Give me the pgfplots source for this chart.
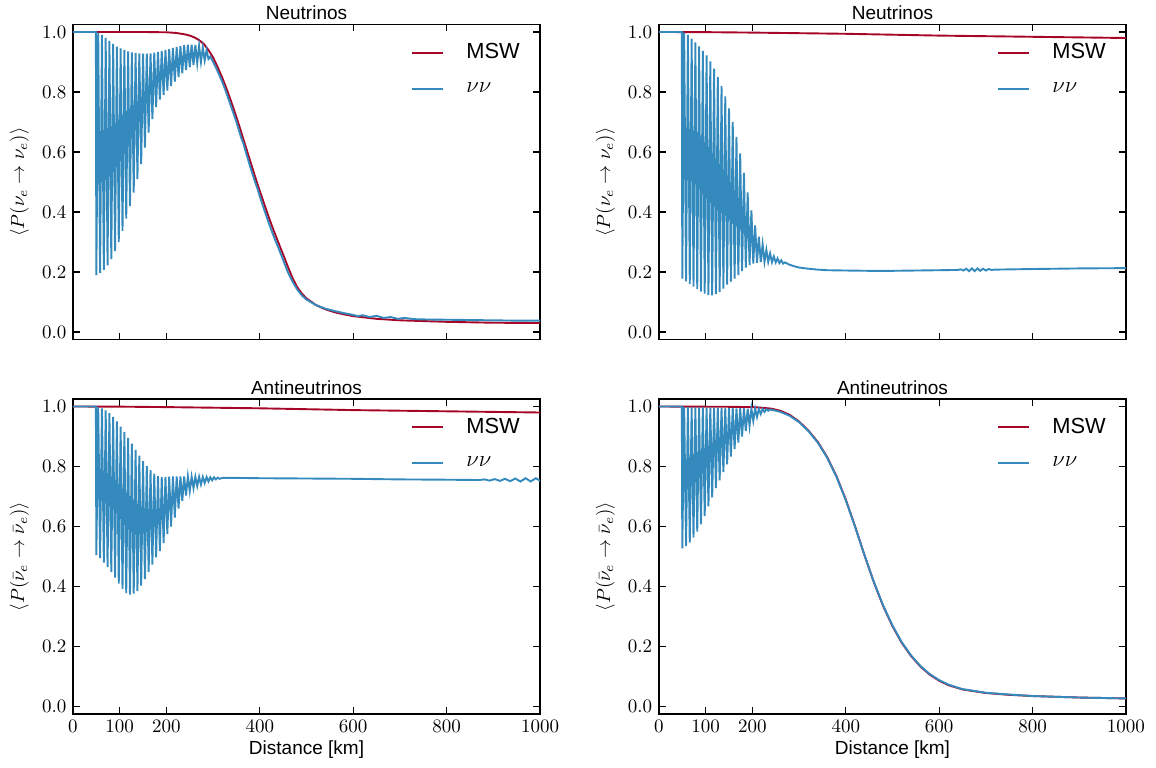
\documentclass[border=0pt]{standalone}
\usepackage[no-math]{fontspec}
\usepackage{pgfplots}
\pgfplotsset{compat=1.18}
\newfontfamily\hv{Liberation Sans}
\definecolor{mswred}{HTML}{A60628}
\definecolor{nublue}{HTML}{348ABD}
\pgfplotsset{
  panel/.style={
    scale only axis, width=245.8pt, height=165.8pt,
    xmin=0, xmax=1000, ymin=-0.025, ymax=1.025,
    xtick={0,100,200,400,600,800,1000},
    ytick={0,0.2,0.4,0.6,0.8,1.0},
    yticklabel style={/pgf/number format/fixed,/pgf/number format/fixed zerofill,/pgf/number format/precision=1},
    xticklabel style={/pgf/number format/1000 sep={}},
    scaled ticks=false,
    tick align=inside, major tick length=3.5pt,
    axis line style={line width=0.7pt},
    tick style={line width=0.7pt, black},
    title style={font=\hv, yshift=-7pt},
    xlabel style={font=\hv, yshift=3pt},
    legend style={draw=none, fill=none, at={(0.982,0.965)}, anchor=north east,
      font=\hv\fontsize{11.5}{13.5}\selectfont, row sep=7pt, nodes={inner xsep=3pt},
      /tikz/every odd column/.append style={column sep=9pt}},
    legend cell align=left,
    legend image code/.code={\draw[##1] (0pt,0pt) -- (16pt,0pt);},
  },
  msw/.style={color=mswred, line width=1pt},
  nn/.style={color=nublue, line width=1pt},
}
\begin{document}
\begin{tikzpicture}
\path[use as bounding box] (0pt,0pt) rectangle (608.4pt,403.7pt);
% ---------------- Top left
\begin{axis}[panel, at={(38.42pt,225pt)}, anchor=south west,
  title={Neutrinos}, xticklabels={},
  ylabel={$\langle P(\nu_e \rightarrow \nu_e)\rangle$}]
\addplot[msw] coordinates {(0,1) (150,1) (200,0.999) (220,0.997) (240,0.992) (250,0.988) (260,0.982) (270,0.973) (280,0.96) (290,0.94) (300,0.915) (310,0.882) (320,0.846) (330,0.806) (340,0.762) (350,0.716) (360,0.667) (370,0.617) (380,0.567) (390,0.517) (400,0.47) (410,0.424) (420,0.379) (430,0.337) (440,0.297) (450,0.258) (460,0.218) (470,0.18) (480,0.15) (490,0.128) (500,0.112) (520,0.09) (540,0.076) (560,0.066) (580,0.059) (600,0.053) (650,0.044) (700,0.039) (800,0.034) (900,0.031) (1000,0.03)};
\addlegendentry{MSW}
\addplot[nn] coordinates {(0,1) (49,1)
(50,0.19) (54,0.998) (58,0.197) (62,0.99) (66,0.207) (70,0.98) (74,0.222) (78,0.97) (82,0.243) (86,0.96) (90,0.27) (94,0.951) (98,0.30) (102,0.945) (106,0.337) (110,0.94) (114,0.378) (118,0.935) (122,0.42) (126,0.932) (130,0.465) (134,0.93) (138,0.51) (142,0.929) (146,0.56) (150,0.928) (154,0.615) (158,0.928) (162,0.665) (166,0.929) (170,0.71) (174,0.931) (178,0.75) (182,0.934) (186,0.775) (190,0.937) (194,0.79) (198,0.94) (202,0.805) (206,0.943) (210,0.82) (214,0.947) (218,0.835) (222,0.95) (226,0.85) (230,0.953) (234,0.862) (238,0.956) (242,0.873) (246,0.958) (250,0.882) (254,0.958) (258,0.89) (262,0.957) (266,0.896) (270,0.954) (274,0.90) (278,0.948) (282,0.905) (286,0.94) (290,0.91) (294,0.918)
(300,0.9) (305,0.885) (310,0.868) (315,0.85) (320,0.832) (325,0.812) (330,0.79) (340,0.745) (350,0.7) (360,0.648) (365,0.628) (370,0.6) (380,0.548) (390,0.5) (395,0.478) (400,0.452) (410,0.405) (420,0.36) (430,0.318) (440,0.28) (450,0.24) (460,0.2) (470,0.168) (480,0.142) (490,0.122) (500,0.108) (520,0.09) (540,0.078) (560,0.07) (580,0.063) (600,0.057) (610,0.053) (620,0.056) (635,0.05) (650,0.054) (665,0.047) (680,0.05) (695,0.044) (710,0.047) (730,0.043) (750,0.042) (800,0.041) (850,0.04) (900,0.039) (950,0.038) (1000,0.038)};
\addlegendentry{$\nu\nu$}
\end{axis}
% ---------------- Top right
\begin{axis}[panel, at={(346.8pt,225pt)}, anchor=south west,
  title={Neutrinos}, xticklabels={},
  ylabel={$\langle P(\nu_e \rightarrow \nu_e)\rangle$}]
\addplot[msw] coordinates {(0,1) (100,0.9995) (200,0.998) (300,0.996) (400,0.994) (500,0.991) (600,0.988) (700,0.986) (800,0.984) (900,0.982) (1000,0.98)};
\addlegendentry{MSW}
\addplot[nn] coordinates {(0,1) (49,1)
(50,0.178) (54,0.998) (58,0.169) (62,0.99) (66,0.16) (70,0.978) (74,0.151) (78,0.965) (82,0.143) (86,0.952) (90,0.135) (94,0.937) (98,0.128) (102,0.922) (106,0.123) (110,0.902) (114,0.122) (118,0.878) (122,0.126) (126,0.85) (130,0.134) (134,0.82) (138,0.145) (142,0.785) (146,0.158) (150,0.745) (154,0.168) (158,0.7) (162,0.178) (166,0.65) (170,0.19) (174,0.595) (178,0.203) (182,0.53) (186,0.215) (190,0.465) (194,0.223) (198,0.405) (202,0.228) (206,0.355) (210,0.231) (214,0.318) (218,0.233) (222,0.292) (226,0.234) (230,0.274) (234,0.234) (238,0.262) (242,0.233) (246,0.252) (250,0.232) (254,0.245) (258,0.23) (262,0.239) (266,0.228) (270,0.232)
(280,0.224) (290,0.219) (300,0.215) (320,0.211) (340,0.208) (360,0.206) (400,0.205) (450,0.204) (500,0.204) (550,0.205) (600,0.206) (640,0.207) (646,0.209) (652,0.205) (658,0.211) (664,0.203) (670,0.212) (676,0.203) (682,0.212) (688,0.204) (694,0.211) (700,0.205) (706,0.21) (712,0.207) (720,0.208) (800,0.21) (900,0.212) (1000,0.213)};
\addlegendentry{$\nu\nu$}
\end{axis}
% ---------------- Bottom left
\begin{axis}[panel, at={(38.42pt,27.9pt)}, anchor=south west,
  title={Antineutrinos}, xlabel={Distance [km]},
  ylabel={$\langle P(\bar{\nu}_e \rightarrow \bar{\nu}_e)\rangle$}]
\addplot[msw] coordinates {(0,1) (100,0.9995) (200,0.998) (300,0.996) (400,0.994) (500,0.991) (600,0.988) (700,0.986) (800,0.984) (900,0.982) (1000,0.98)};
\addlegendentry{MSW}
\addplot[nn] coordinates {(0,1) (49,1)
(50,0.505) (54,0.998) (58,0.495) (62,0.994) (66,0.48) (70,0.987) (74,0.465) (78,0.978) (82,0.448) (86,0.965) (90,0.43) (94,0.95) (98,0.41) (102,0.933) (106,0.392) (110,0.915) (114,0.378) (118,0.895) (122,0.373) (126,0.876) (130,0.376) (134,0.855) (138,0.385) (142,0.836) (146,0.403) (150,0.818) (154,0.425) (158,0.802) (162,0.448) (166,0.788) (170,0.473) (174,0.776) (178,0.497) (182,0.768) (186,0.518) (190,0.765) (194,0.545) (198,0.765) (202,0.575) (206,0.766) (210,0.6) (214,0.767) (218,0.63) (222,0.767) (226,0.66) (230,0.767) (234,0.685) (238,0.767) (242,0.703) (246,0.767) (250,0.718) (254,0.766) (258,0.728) (262,0.766) (266,0.735) (270,0.766) (274,0.74) (278,0.765) (282,0.745) (286,0.765) (290,0.75) (294,0.764) (298,0.754) (302,0.764) (306,0.757) (310,0.763) (314,0.759)
(320,0.762) (350,0.762) (400,0.761) (500,0.76) (600,0.759) (700,0.757) (800,0.756) (870,0.755) (881,0.757) (892,0.753) (903,0.758) (914,0.752) (925,0.759) (936,0.751) (947,0.76) (958,0.75) (969,0.761) (980,0.75) (991,0.761) (1000,0.752)};
\addlegendentry{$\nu\nu$}
\end{axis}
% ---------------- Bottom right
\begin{axis}[panel, at={(346.8pt,27.9pt)}, anchor=south west,
  title={Antineutrinos}, xlabel={Distance [km]},
  ylabel={$\langle P(\bar{\nu}_e \rightarrow \bar{\nu}_e)\rangle$}]
\addplot[msw] coordinates {(0,1) (150,0.999) (200,0.998) (220,0.996) (240,0.993) (260,0.986) (280,0.972) (300,0.95) (320,0.92) (340,0.882) (360,0.832) (380,0.768) (400,0.69) (420,0.6) (440,0.505) (460,0.415) (480,0.335) (500,0.268) (520,0.212) (540,0.168) (560,0.133) (580,0.106) (600,0.086) (620,0.071) (650,0.057) (700,0.045) (750,0.039) (800,0.035) (900,0.03) (1000,0.027)};
\addlegendentry{MSW}
\addplot[nn] coordinates {(0,1) (49,1)
(50,0.527) (54,0.998) (58,0.535) (62,0.998) (66,0.546) (70,0.997) (74,0.563) (78,0.997) (82,0.583) (86,0.997) (90,0.607) (94,0.997) (98,0.635) (102,0.996) (106,0.667) (110,0.996) (114,0.697) (118,0.996) (122,0.728) (126,0.996) (130,0.754) (134,0.995) (138,0.781) (142,0.995) (146,0.807) (150,0.995) (154,0.833) (158,0.995) (162,0.858) (166,0.994) (170,0.88) (174,0.994) (178,0.9) (182,0.994) (186,0.918) (190,0.993) (194,0.935) (198,0.993) (202,0.952) (206,0.993) (210,0.965) (214,0.992) (218,0.975) (222,0.992) (226,0.982) (230,0.991) (234,0.986) (238,0.99)
(250,0.986) (260,0.982) (280,0.969) (300,0.948) (320,0.918) (340,0.88) (360,0.83) (380,0.766) (400,0.688) (420,0.599) (440,0.505) (460,0.416) (480,0.337) (500,0.27) (520,0.214) (540,0.17) (560,0.135) (580,0.108) (600,0.088) (620,0.073) (650,0.058) (700,0.046) (750,0.04) (800,0.035) (900,0.03) (1000,0.027)};
\addlegendentry{$\nu\nu$}
\end{axis}
\end{tikzpicture}
\end{document}
